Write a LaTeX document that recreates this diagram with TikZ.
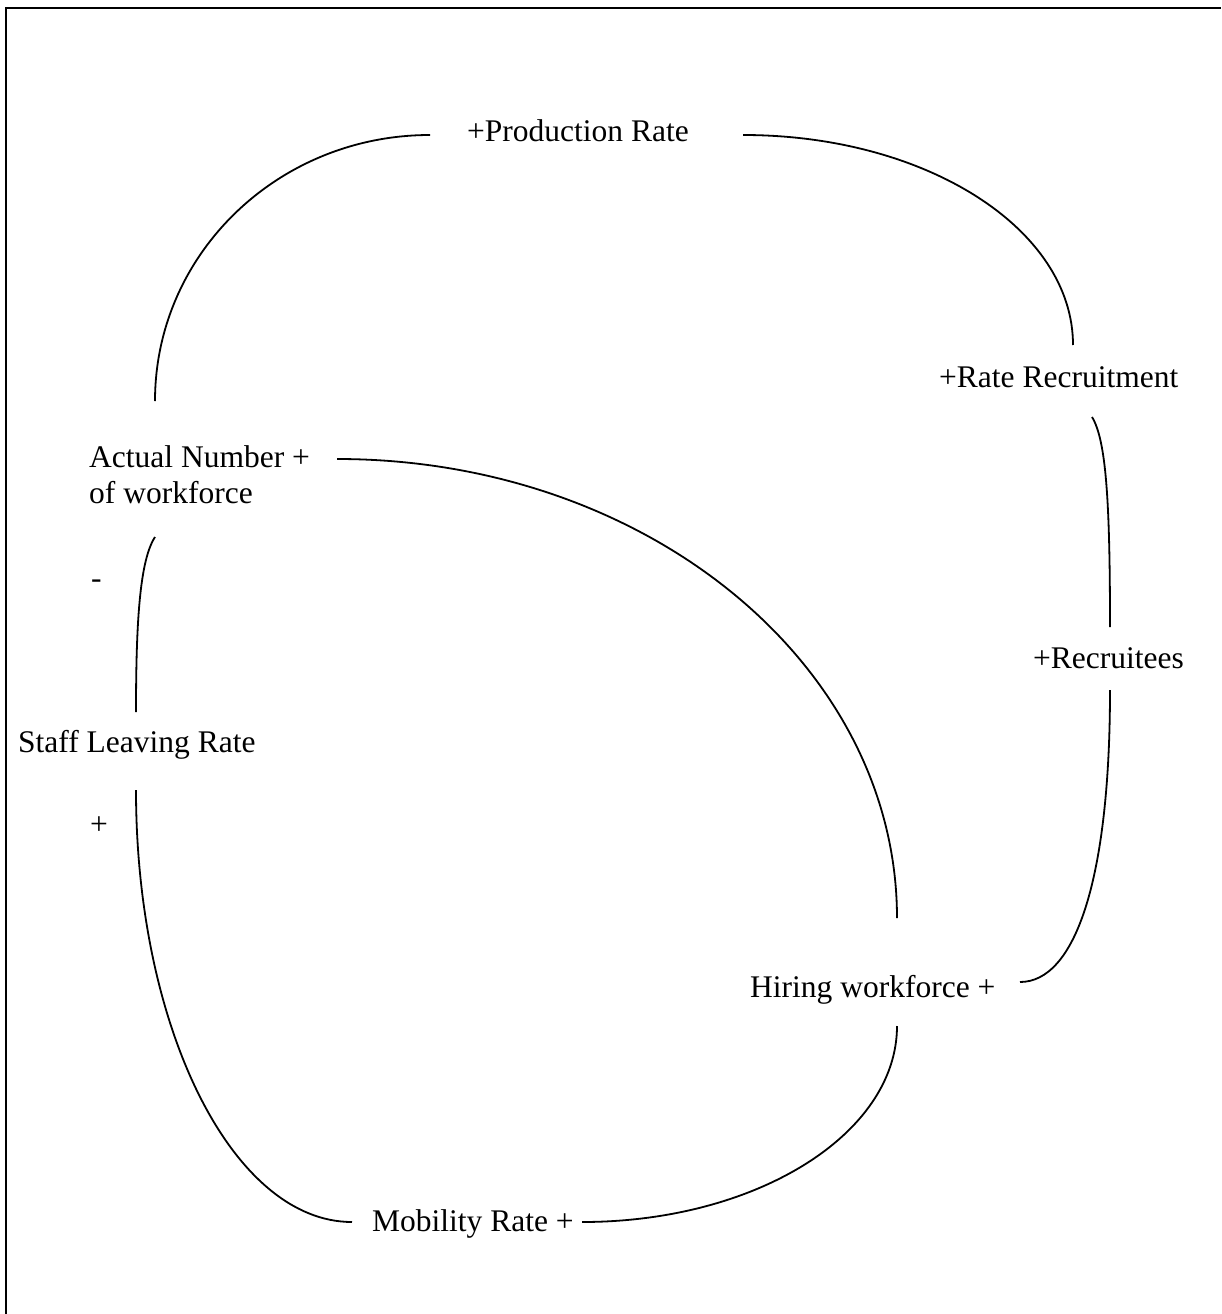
\documentclass[tikz,border=0pt]{standalone}
\usepackage{fontspec}
\setmainfont{Liberation Serif}
\begin{document}
\begin{tikzpicture}[x=1pt,y=-1pt,
  lbl/.style={anchor=base west, inner sep=0pt, font=\fontsize{31.5}{36}\selectfont},
  link/.style={line width=1.8pt},
  frame/.style={line width=2.2pt}]
\useasboundingbox (0,0) rectangle (1221,1314);

% outer frame (left and top edges)
\draw[frame] (6,1314) -- (6,8) -- (1221,8);

% variables
\node[lbl] (prod)    at (467,141)  {+Production Rate};
\node[lbl] (rate)    at (939,387)  {+Rate Recruitment};
\node[lbl] (actual)  at (89,467)   {Actual Number +};
\node[lbl] (actualb) at (89,503)   {of workforce};
\node[lbl] (minus)   at (91,588)   {-};
\node[lbl] (staff)   at (18,752)   {Staff Leaving Rate};
\node[lbl] (plus)    at (90,834)   {+};
\node[lbl] (recs)    at (1033,668) {+Recruitees};
\node[lbl] (hiring)  at (750,997)  {Hiring workforce +};
\node[lbl] (mob)     at (372,1231) {Mobility Rate +};

% connector end points
\coordinate (a1) at (155,401);  \coordinate (p1) at (430,135);
\coordinate (p2) at (743,135);  \coordinate (r1) at (1073,345);
\coordinate (r2) at (1092,417); \coordinate (c1) at (1110,627);
\coordinate (c2) at (1110,690); \coordinate (h1) at (1020,982);
\coordinate (a2) at (337,459);  \coordinate (h2) at (897,918);
\coordinate (a3) at (155,537);  \coordinate (s1) at (136,712);
\coordinate (s2) at (136,790);  \coordinate (m1) at (352,1222);
\coordinate (h3) at (897,1026); \coordinate (m2) at (582,1222);

% causal links
\draw[link] (a1) .. controls (155,254) and (278,135) .. (p1);
\draw[link] (p2) .. controls (926,135) and (1073,229) .. (r1);
\draw[link] (r2) .. controls (1106,440) and (1110,500) .. (c1);
\draw[link] (c2) .. controls (1110,880) and (1075,982) .. (h1);
\draw[link] (a2) .. controls (646,459) and (897,664) .. (h2);
\draw[link] (a3) .. controls (140,560) and (136,620) .. (s1);
\draw[link] (s2) .. controls (136,1029) and (233,1222) .. (m1);
\draw[link] (h3) .. controls (897,1134) and (756,1222) .. (m2);
\end{tikzpicture}
\end{document}
